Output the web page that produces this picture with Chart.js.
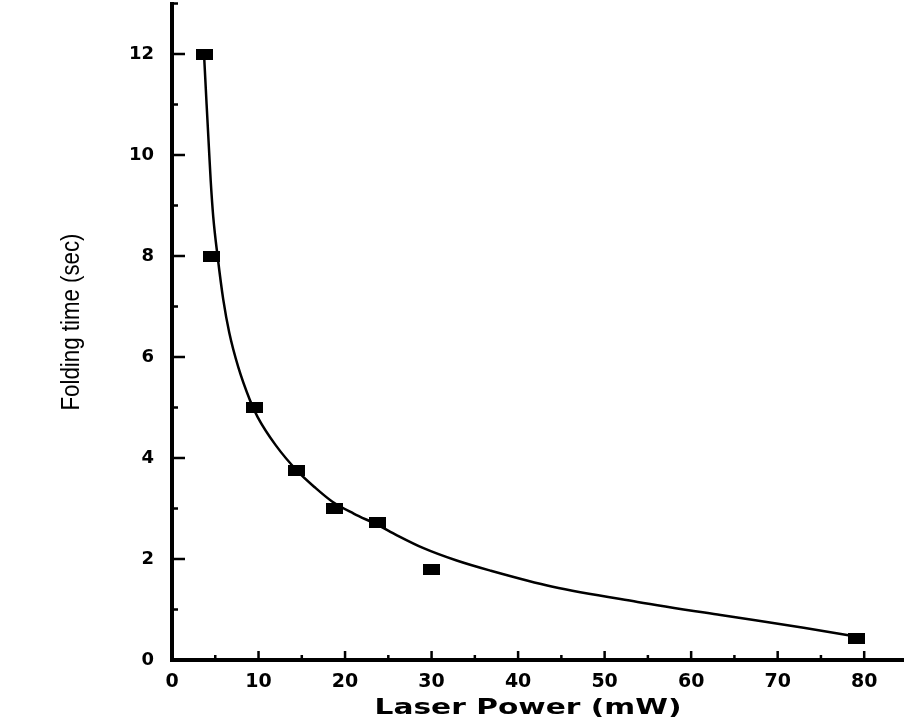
<!DOCTYPE html>
<html>
<head>
<meta charset="utf-8">
<script src="https://cdn.jsdelivr.net/npm/chart.js@4.4.1/dist/chart.umd.min.js"></script>
<style>
  html, body { margin: 0; padding: 0; background: #fff; }
  #wrap { width: 904px; height: 727px; }
</style>
</head>
<body>
<div id="wrap"><canvas id="c" width="904" height="727"></canvas></div>
<script>
// measured points (laser power in mW, folding time in sec)
const powerMw  = [3.7, 4.6, 9.5, 14.4, 18.8, 23.7, 30.0, 79.1];
const foldTime = [12.0, 8.0, 5.0, 3.75, 3.0, 2.72, 1.8, 0.43];

// fitted curve
const fitX = [3.7, 4.0, 4.28, 4.47, 4.77, 5.28, 5.93, 6.62, 7.66, 9.0, 9.9, 12.0, 14.5, 16.5, 18.5, 21.0, 23.7, 26.0, 29.0, 32.9, 36.8, 44.0, 53.8, 63.4, 73.0, 79.2];
const fitY = [12.0, 11.0, 10.1, 9.5, 8.77, 7.98, 7.13, 6.48, 5.8, 5.15, 4.81, 4.25, 3.74, 3.42, 3.14, 2.9, 2.68, 2.47, 2.22, 1.97, 1.77, 1.45, 1.15, 0.89, 0.64, 0.46];

const xTicks = [0, 10, 20, 30, 40, 50, 60, 70, 80];
const yTicks = [0, 2, 4, 6, 8, 10, 12];
const xTitle = "Laser Power (mW)";
const yTitle = "Folding time (sec)";

// filled rectangle marker, a bit wider than tall like the scan
const marker = document.createElement("canvas");
marker.width = 17; marker.height = 11;
(function () {
  const g = marker.getContext("2d");
  g.fillStyle = "#000";
  g.fillRect(0, 0, 17, 11);
})();

// inward tick marks + stretched axis titles
const axisDecor = {
  id: "axisDecor",
  afterDraw(chart) {
    const { ctx, scales: { x, y } } = chart;
    const x0 = x.getPixelForValue(0) - 1;
    const y0 = y.getPixelForValue(0);
    ctx.save();
    ctx.strokeStyle = "#000";
    ctx.lineWidth = 2.5;
    ctx.beginPath();
    for (let v = 5; v <= 80; v += 5) {
      const px = x.getPixelForValue(v);
      const len = v % 10 === 0 ? 9 : 5;
      ctx.moveTo(px, y0);
      ctx.lineTo(px, y0 - len);
    }
    for (let v = 1; v <= 13; v += 1) {
      const py = y.getPixelForValue(v);
      const len = v % 2 === 0 ? 14 : 7;
      ctx.moveTo(x0, py);
      ctx.lineTo(x0 + len, py);
    }
    ctx.stroke();

    ctx.fillStyle = "#000";
    ctx.textAlign = "center";
    ctx.textBaseline = "middle";

    // x title, wide bold
    ctx.font = "bold 21px 'DejaVu Sans'";
    let w = ctx.measureText(xTitle).width;
    ctx.save();
    ctx.translate(528, 709);
    ctx.scale(307 / w, 1);
    ctx.fillText(xTitle, 0, 0);
    ctx.restore();

    // y title, condensed
    ctx.font = "25px 'Liberation Sans'";
    w = ctx.measureText(yTitle).width;
    ctx.save();
    ctx.translate(72, 322);
    ctx.rotate(-Math.PI / 2);
    ctx.scale(177 / w, 1);
    ctx.fillText(yTitle, 0, 0);
    ctx.restore();
    ctx.restore();
  }
};

new Chart(document.getElementById("c"), {
  type: "scatter",
  data: {
    datasets: [
      {
        label: "fit",
        data: fitX.map((v, i) => ({ x: v, y: fitY[i] })),
        showLine: true,
        borderColor: "#000",
        borderWidth: 2.5,
        pointRadius: 0,
        cubicInterpolationMode: "monotone",
        fill: false
      },
      {
        label: "data",
        data: powerMw.map((v, i) => ({ x: v, y: foldTime[i] })),
        showLine: false,
        pointStyle: marker,
        pointRadius: 8
      }
    ]
  },
  options: {
    responsive: false,
    animation: false,
    devicePixelRatio: 1,
    layout: { autoPadding: false, padding: { top: 3.5, right: 0, left: 0, bottom: 0 } },
    plugins: { legend: { display: false }, tooltip: { enabled: false } },
    scales: {
      x: {
        type: "linear",
        min: 0,
        max: 84.6,
        afterBuildTicks: s => { s.ticks = xTicks.map(v => ({ value: v })); },
        afterFit: s => { s.height = 67; s.paddingLeft = 0; s.paddingRight = 0; },
        grid: { display: false, drawTicks: false },
        border: { display: true, color: "#000", width: 4 },
        ticks: {
          color: "#000",
          padding: 11,
          maxRotation: 0,
          font: { family: "'DejaVu Sans'", weight: "bold", size: 19 }
        },
        title: { display: false }
      },
      y: {
        type: "linear",
        min: 0,
        max: 13,
        afterBuildTicks: s => { s.ticks = yTicks.map(v => ({ value: v })); },
        afterFit: s => { s.width = 172; s.paddingTop = 0; s.paddingBottom = 0; },
        grid: { display: false, drawTicks: false },
        border: { display: true, color: "#000", width: 4 },
        ticks: {
          color: "#000",
          padding: 18,
          font: { family: "'DejaVu Sans'", weight: "bold", size: 18 }
        },
        title: { display: false }
      }
    }
  },
  plugins: [axisDecor]
});
</script>
</body>
</html>
